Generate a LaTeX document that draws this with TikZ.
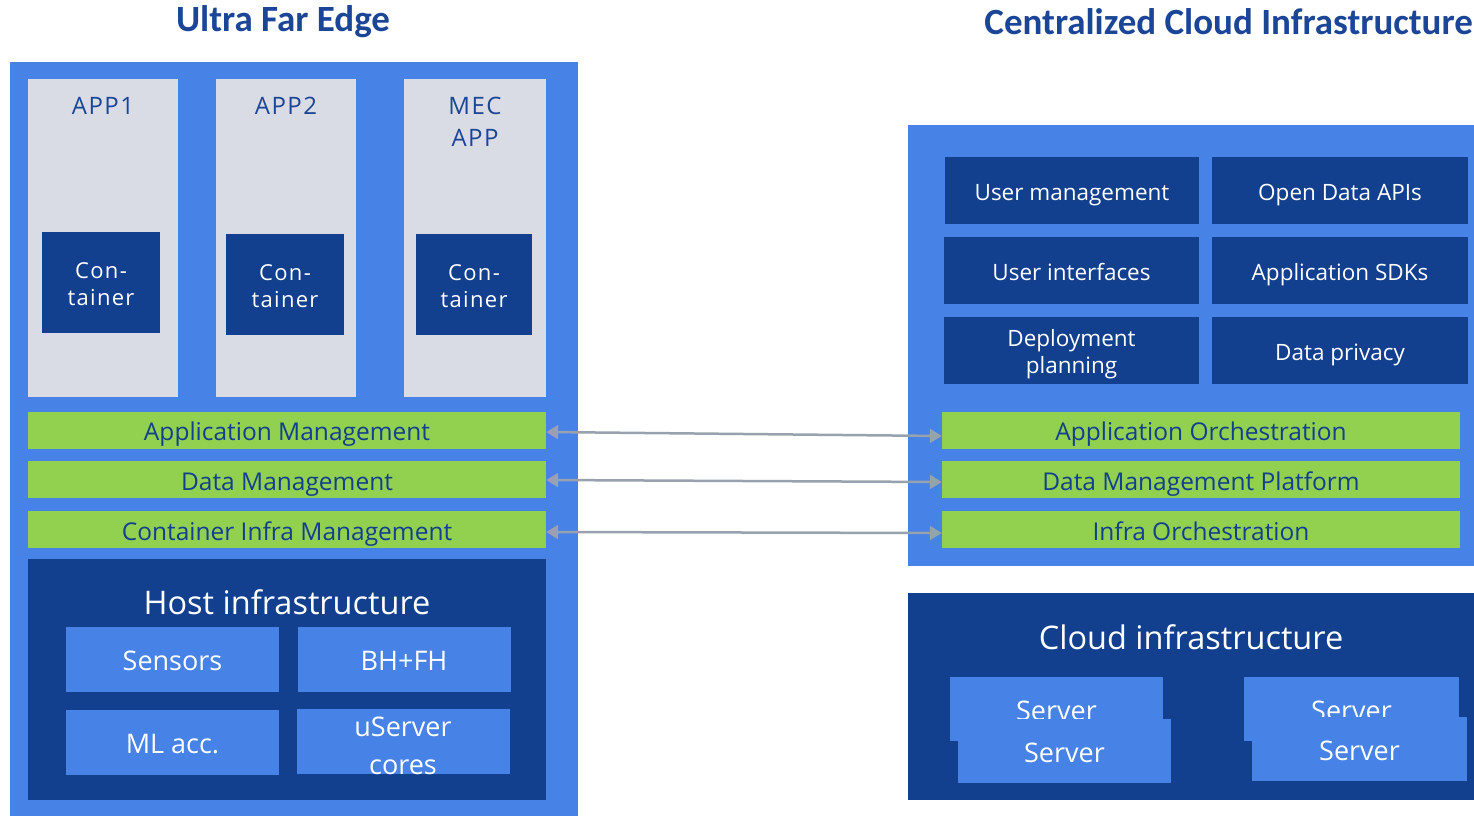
\documentclass[tikz,border=0pt]{standalone}
\usepackage{fontspec}
\setmainfont{Open Sans}
\newfontfamily\titlefont{Carlito}
\usepackage{xcolor}
\usetikzlibrary{arrows.meta,positioning}
\definecolor{midblue}{RGB}{71,130,230}
\definecolor{darkblue}{RGB}{18,63,142}
\definecolor{titleblue}{RGB}{27,69,150}
\definecolor{appgray}{RGB}{217,220,229}
\definecolor{mgmtgreen}{RGB}{146,208,80}
\definecolor{linkgray}{RGB}{152,161,174}

\begin{document}
\begin{tikzpicture}[
  x=1pt, y=-1pt,
  ctext/.style 2 args={text height=#1,text depth=#2},
  panel/.style={fill=midblue,inner sep=0pt},
  title/.style={text=titleblue,inner sep=0pt,anchor=base,font=\titlefont\bfseries\fontsize{37}{42}\selectfont},
  appbox/.style={fill=appgray,inner sep=0pt,minimum width=#1,minimum height=318pt},
  applbl/.style={ctext={24pt}{3pt},text=titleblue,align=center,inner sep=0pt,font=\fontsize{24}{32}\selectfont\addfontfeatures{LetterSpace=6}},
  ctr/.style={ctext={49pt}{2.6pt},fill=darkblue,text=white,align=center,inner sep=0pt,minimum width=#1,minimum height=101pt,font=\fontsize{22}{27}\selectfont\addfontfeatures{LetterSpace=6}},
  mgmt/.style={ctext={24.5pt}{3pt},fill=mgmtgreen,text=darkblue,inner sep=0pt,minimum width=518pt,minimum height=37pt,font=\fontsize{24.5}{28}\selectfont},
  dark/.style={fill=darkblue,inner sep=0pt},
  heading/.style={text=white,inner sep=0pt,anchor=base,font=\fontsize{32.5}{38}\selectfont},
  hw/.style={ctext={27pt}{3.2pt},fill=midblue,text=white,align=center,inner sep=0pt,minimum width=213pt,minimum height=65pt,font=\fontsize{27}{38}\selectfont},
  svc/.style={ctext={22.5pt}{2.7pt},fill=darkblue,text=white,align=center,inner sep=0pt,minimum width=#1,minimum height=67pt,font=\fontsize{22.5}{27}\selectfont},
  srv/.style={ctext={27pt}{3.2pt},fill=midblue,text=white,inner sep=0pt,minimum width=214pt,minimum height=64pt,font=\fontsize{27}{32}\selectfont},
  link/.style={draw=linkgray,line width=2.5pt,{Triangle[length=12pt,width=14pt]}-{Triangle[length=12pt,width=14pt]}}
]
\useasboundingbox (0,0) rectangle (1474,816);

\node[title] (ufe) at (283,32) {Ultra Far Edge};
\node[title,anchor=base east] (cci) at (1473,35) {Centralized Cloud Infrastructure};

\node[panel,minimum width=568pt,minimum height=754pt] (edge) at (294,439) {};
\node[appbox=150pt] (app1) at (103,238) {};
\node[appbox=140pt] (app2) at (286,238) {};
\node[appbox=142pt] (mec) at (475,238) {};
\node[applbl,below=11pt of app1.north] {APP1};
\node[applbl,below=11pt of app2.north] {APP2};
\node[applbl,text height=56pt,below=11pt of mec.north] {MEC\\APP};
\node[ctr=118pt] (c1) at (101,282) {Con-\\tainer};
\node[ctr=118pt] (c2) at (285,284) {Con-\\tainer};
\node[ctr=116pt] (c3) at (474,284) {Con-\\tainer};

\node[mgmt] (appmgmt) at (287,430) {Application Management};
\node[mgmt] (datamgmt) at (287,479.5) {Data Management};
\node[mgmt] (infmgmt) at (287,529.5) {Container Infra Management};

\node[dark,minimum width=518pt,minimum height=241pt] (host) at (287,679.5) {};
\node[heading] at ([yshift=-56pt]host.north) {Host infrastructure};
\node[hw] (sens) at (172.5,659) {Sensors};
\node[hw] (bhfh) at (404,659) {BH+FH};
\node[hw] (mlacc) at (172.5,742) {ML acc.};
\node[hw,text height=65pt,text depth=-2pt] (userv) at (403,741.5) {uServer\\cores};

\node[panel,minimum width=566pt,minimum height=441pt] (cloud) at (1191,345.5) {};
\node[svc=254pt] (usrmgmt) at (1072,190.5) {User management};
\node[svc=256pt] (odapi) at (1340,190.5) {Open Data APIs};
\node[svc=255pt] (ui) at (1071.5,270.5) {User interfaces};
\node[svc=256pt] (sdk) at (1340,270.5) {Application SDKs};
\node[svc=255pt,text height=49.5pt] (deploy) at (1071.5,350.5) {Deployment\\planning};
\node[svc=256pt] (privacy) at (1340,350.5) {Data privacy};

\node[mgmt] (apporch) at (1201,430) {Application Orchestration};
\node[mgmt] (dmp) at (1201,479.5) {Data Management Platform};
\node[mgmt] (inforch) at (1201,529.5) {Infra Orchestration};

\node[dark,minimum width=566pt,minimum height=207pt] (cinfra) at (1191,696.5) {};
\node[heading] at ([yshift=-57pt]cinfra.north) {Cloud infrastructure};
\node[srv,minimum width=213pt] (srv1) at (1056.5,709) {Server};
\node[srv,minimum width=213pt] (srv2) at (1064.5,751) {Server};
\node[srv,minimum width=215pt] (srv3) at (1351.5,709) {Server};
\node[srv,minimum width=215pt] (srv4) at (1359.5,749) {Server};

\draw[link] ([yshift=-2pt]appmgmt.east) -- ([yshift=-6pt]apporch.west);
\draw[link] ([yshift=-0.5pt]datamgmt.east) -- ([yshift=-2.5pt]dmp.west);
\draw[link] ([yshift=-2.5pt]infmgmt.east) -- ([yshift=-3.5pt]inforch.west);
\end{tikzpicture}
\end{document}
